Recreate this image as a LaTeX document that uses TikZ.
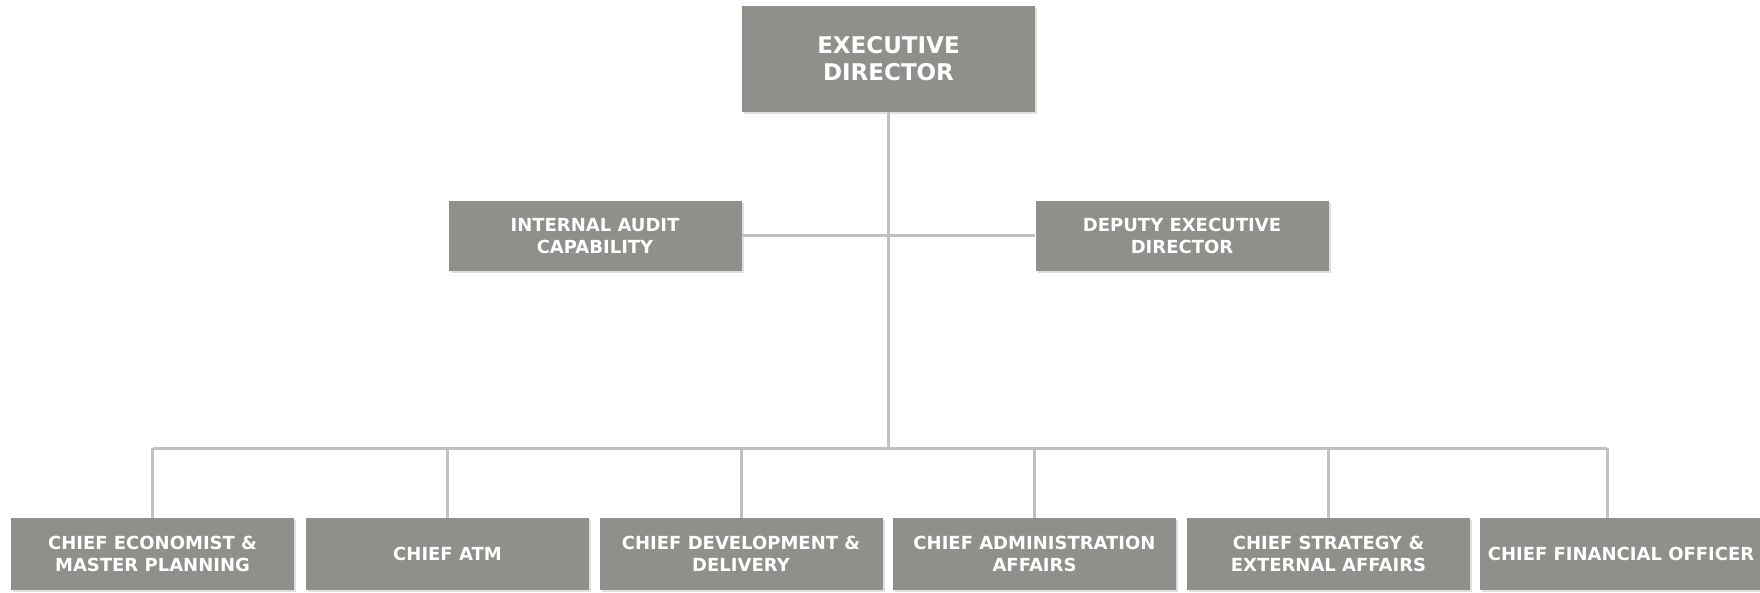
\documentclass[tikz,border=0pt]{standalone}
\usepackage{fontspec}
\usepackage{tikz}
\usetikzlibrary{shadows}
\setmainfont{DejaVu Sans}
\definecolor{boxgray}{RGB}{143,144,139}
\definecolor{linegray}{RGB}{192,192,192}
\tikzstyle{unit}=[rectangle,fill=boxgray,text=white,align=center,inner sep=0pt,
  drop shadow={shadow xshift=1pt,shadow yshift=-1.2pt,opacity=0.25}]
\tikzstyle{head} = [unit,minimum width=146.5pt,minimum height=53pt,font=\bfseries\fontsize{11.5}{13.5}\selectfont]
\tikzstyle{staff} = [unit,minimum width=146.5pt,minimum height=35pt,font=\bfseries\fontsize{9}{10.7}\selectfont]
\tikzstyle{chief} = [unit,minimum width=141.5pt,minimum height=36pt,font=\bfseries\fontsize{9}{10.7}\selectfont]
\tikzstyle{link} = [draw,linegray,line width=1.5pt]

\begin{document}
\begin{tikzpicture}[x=0.5pt,y=-0.5pt]
    \useasboundingbox (0,0) rectangle (1760,593);
    % First we draw the top two rows
    \node[head] (exec) at (888.5,59) {EXECUTIVE\\DIRECTOR};
    \node[staff] (audit) at (595,236) {INTERNAL AUDIT\\CAPABILITY};
    \node[staff] (deputy) at (1182,236) {DEPUTY EXECUTIVE\\DIRECTOR};

    % Then the chiefs
    \foreach \pos/\name/\title in {{(152.5,554)/b1/{CHIEF ECONOMIST \&\\MASTER PLANNING}},
        {(447.5,554)/b2/{CHIEF ATM}}, {(741,554)/b3/{CHIEF DEVELOPMENT \&\\DELIVERY}},
        {(1034.5,554)/b4/{CHIEF ADMINISTRATION\\AFFAIRS}},
        {(1328.5,554)/b5/{CHIEF STRATEGY \&\\EXTERNAL AFFAIRS}},
        {(1621,554)/b6/{CHIEF FINANCIAL OFFICER}}}
        \node[chief] (\name) at \pos {\title};

    % Connect them
    \coordinate (busL) at (152.5,448);
    \coordinate (busR) at (1607,448);
    \path[link] (exec.south) -- (exec.south |- busL);
    \path[link] (audit.east) -- (deputy.west);
    \path[link] (busL) -- (busR);
    \foreach \name in {b1,b2,b3,b4,b5}
        \path[link] (\name.north) -- (\name.north |- busL);
    \path[link] (busR) -- (busR |- b6.north);
\end{tikzpicture}
\end{document}
